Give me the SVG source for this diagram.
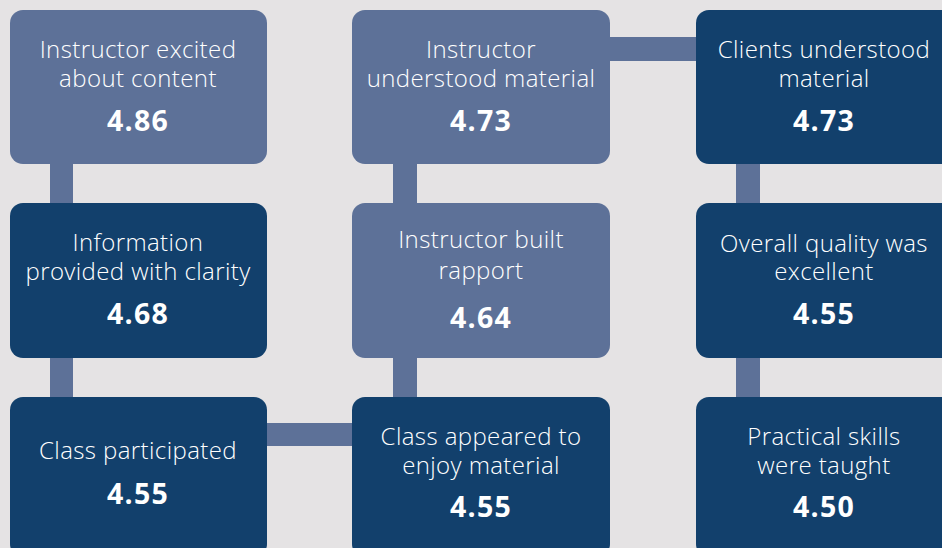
<svg xmlns="http://www.w3.org/2000/svg" width="942" height="548" viewBox="0 0 942 548">
<style>
.bg{fill:#E5E3E4}
.light{fill:#5D7198}
.dark{fill:#12406C}
.conn{fill:#5D7198}
text{font-family:"Open Sans","Liberation Sans",sans-serif;fill:#FFFFFF;text-anchor:middle}
.lbl{font-size:24px;font-weight:300;letter-spacing:0.4px}
.num{font-size:28.5px;font-weight:700;letter-spacing:1.2px}
</style>
<rect class="bg" x="0" y="0" width="942" height="548"/>
<g id="connectors">
<rect class="conn" x="50" y="160" width="23" height="48"/>
<rect class="conn" x="50" y="354" width="23" height="48"/>
<rect class="conn" x="263" y="423" width="93" height="23"/>
<rect class="conn" x="393" y="354" width="24" height="48"/>
<rect class="conn" x="393" y="160" width="24" height="48"/>
<rect class="conn" x="606" y="37" width="94" height="24"/>
<rect class="conn" x="736" y="160" width="24" height="48"/>
<rect class="conn" x="736" y="354" width="24" height="48"/>
</g>
<g id="n1">
<rect class="light" x="10" y="10" width="257" height="154" rx="13"/>
<text class="lbl" x="138" y="58">Instructor excited</text>
<text class="lbl" x="138" y="87">about content</text>
<text class="num" x="138" y="131">4.86</text>
</g>
<g id="n2">
<rect class="light" x="352" y="10" width="258" height="154" rx="13"/>
<text class="lbl" x="481" y="58">Instructor</text>
<text class="lbl" x="481" y="87">understood material</text>
<text class="num" x="481" y="131">4.73</text>
</g>
<g id="n3">
<rect class="dark" x="696" y="10" width="258" height="154" rx="13"/>
<text class="lbl" x="824" y="58">Clients understood</text>
<text class="lbl" x="824" y="87">material</text>
<text class="num" x="824" y="131">4.73</text>
</g>
<g id="n4">
<rect class="dark" x="10" y="203" width="257" height="155" rx="13"/>
<text class="lbl" x="138" y="251">Information</text>
<text class="lbl" x="138" y="280">provided with clarity</text>
<text class="num" x="138" y="324">4.68</text>
</g>
<g id="n5">
<rect class="light" x="352" y="203" width="258" height="155" rx="13"/>
<text class="lbl" x="481" y="248">Instructor built</text>
<text class="lbl" x="481" y="279">rapport</text>
<text class="num" x="481" y="328">4.64</text>
</g>
<g id="n6">
<rect class="dark" x="696" y="203" width="258" height="155" rx="13"/>
<text class="lbl" x="824" y="252">Overall quality was</text>
<text class="lbl" x="824" y="280">excellent</text>
<text class="num" x="824" y="324">4.55</text>
</g>
<g id="n7">
<rect class="dark" x="10" y="397" width="257" height="160" rx="13"/>
<text class="lbl" x="138" y="459">Class participated</text>
<text class="num" x="138" y="504">4.55</text>
</g>
<g id="n8">
<rect class="dark" x="352" y="397" width="258" height="160" rx="13"/>
<text class="lbl" x="481" y="445">Class appeared to</text>
<text class="lbl" x="481" y="474">enjoy material</text>
<text class="num" x="481" y="517">4.55</text>
</g>
<g id="n9">
<rect class="dark" x="696" y="397" width="258" height="160" rx="13"/>
<text class="lbl" x="824" y="445">Practical skills</text>
<text class="lbl" x="824" y="474">were taught</text>
<text class="num" x="824" y="517">4.50</text>
</g>
</svg>
